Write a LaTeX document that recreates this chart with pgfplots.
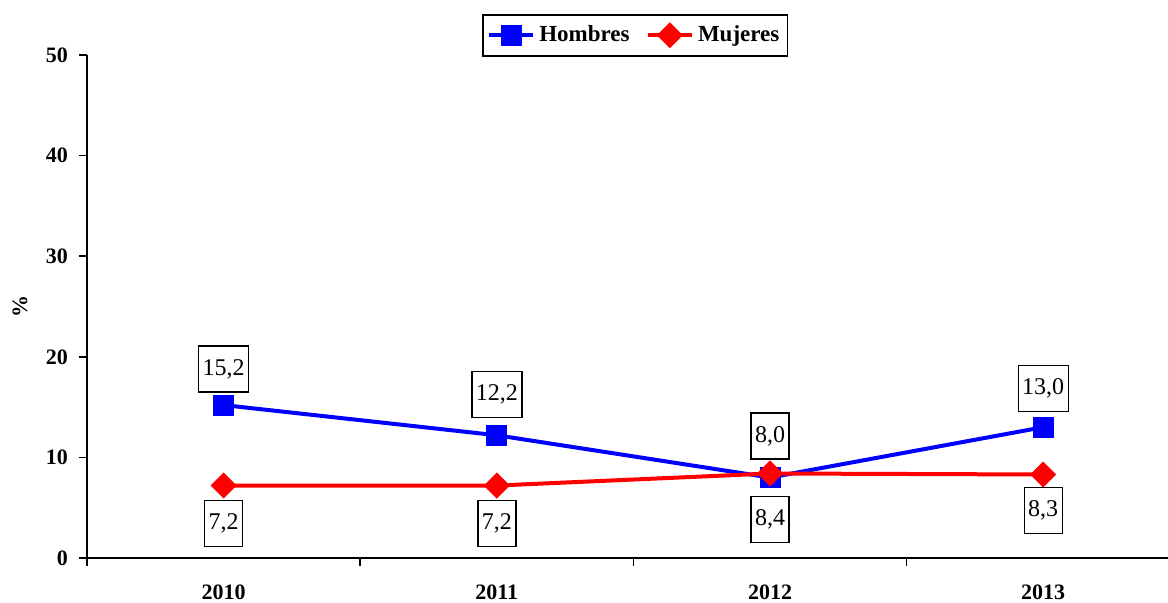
\documentclass[border=0pt]{standalone}
\usepackage{pgfplots}
\pgfplotsset{compat=1.18}
\usepackage{fontspec}
\setmainfont{Liberation Serif}
\definecolor{mblue}{RGB}{0,0,255}
\definecolor{mred}{RGB}{255,0,0}
\begin{document}
\begin{tikzpicture}
\begin{axis}[
  scale only axis,
  width=546.4pt, height=251.5pt,
  xmin=-0.5, xmax=3.5, ymin=0, ymax=50,
  axis lines=left,
  axis line style={-, line width=0.8pt, black},
  clip=false,
  xtick={-0.5,0.5,1.5,2.5},
  xticklabels={},
  extra x ticks={0,1,2,3},
  extra x tick labels={2010,2011,2012,2013},
  extra x tick style={major tick length=0pt, tick label style={yshift=-10pt}},
  ytick={0,10,20,30,40,50},
  tick align=outside,
  major tick length=4pt,
  tick style={line width=0.8pt, black},
  /pgf/number format/assume math mode=true,
  tick label style={font=\fontsize{11}{13}\selectfont\bfseries},
  yticklabel style={xshift=-2pt},
  ylabel={\%},
  ylabel style={font=\fontsize{11}{13}\selectfont\bfseries, at={(axis description cs:-0.0613,0.5)}, anchor=center},
  legend columns=2,
  legend style={at={(0.5016,1.0815)}, anchor=north, draw=black, line width=0.8pt,
    font=\fontsize{11.5}{13}\selectfont\bfseries, inner xsep=2pt, inner ysep=3.5pt,
    /tikz/every even column/.append style={column sep=6pt}},
  legend image code/.code={\draw[mark repeat=2,mark phase=2] plot coordinates {(0cm,0cm) (0.39cm,0cm) (0.78cm,0cm)};},
]
\addplot[color=mblue, line width=2pt, mark=square*, mark size=4.25pt, mark options={solid}]
  coordinates {(0,15.2) (1,12.2) (2,8.0) (3,13.0)};
\addlegendentry{Hombres}
\addplot[color=mred, line width=2pt, mark=square*, mark size=3.6pt, mark options={solid, rotate=45}]
  coordinates {(0,7.2) (1,7.2) (2,8.4) (3,8.3)};
\addlegendentry{Mujeres}
\addplot[draw=none, mark=none, forget plot, nodes near coords, point meta=explicit symbolic,
  nodes near coords style={anchor=center, draw=black, fill=white, line width=0.7pt,
    font=\fontsize{12}{14}\selectfont, minimum height=23pt, inner xsep=2pt, text=black}]
  table[meta=lab] {
x y lab
0 18.79 {15,2}
1 16.25 {12,2}
2 12.13 {8,0}
3 16.85 {13,0}
0 3.43 {7,2}
1 3.43 {7,2}
2 3.83 {8,4}
3 4.72 {8,3}
};
\end{axis}
\pgfresetboundingbox
\useasboundingbox (-43.5pt,-22.5pt) rectangle (540.5pt,279pt);
\end{tikzpicture}
\end{document}
